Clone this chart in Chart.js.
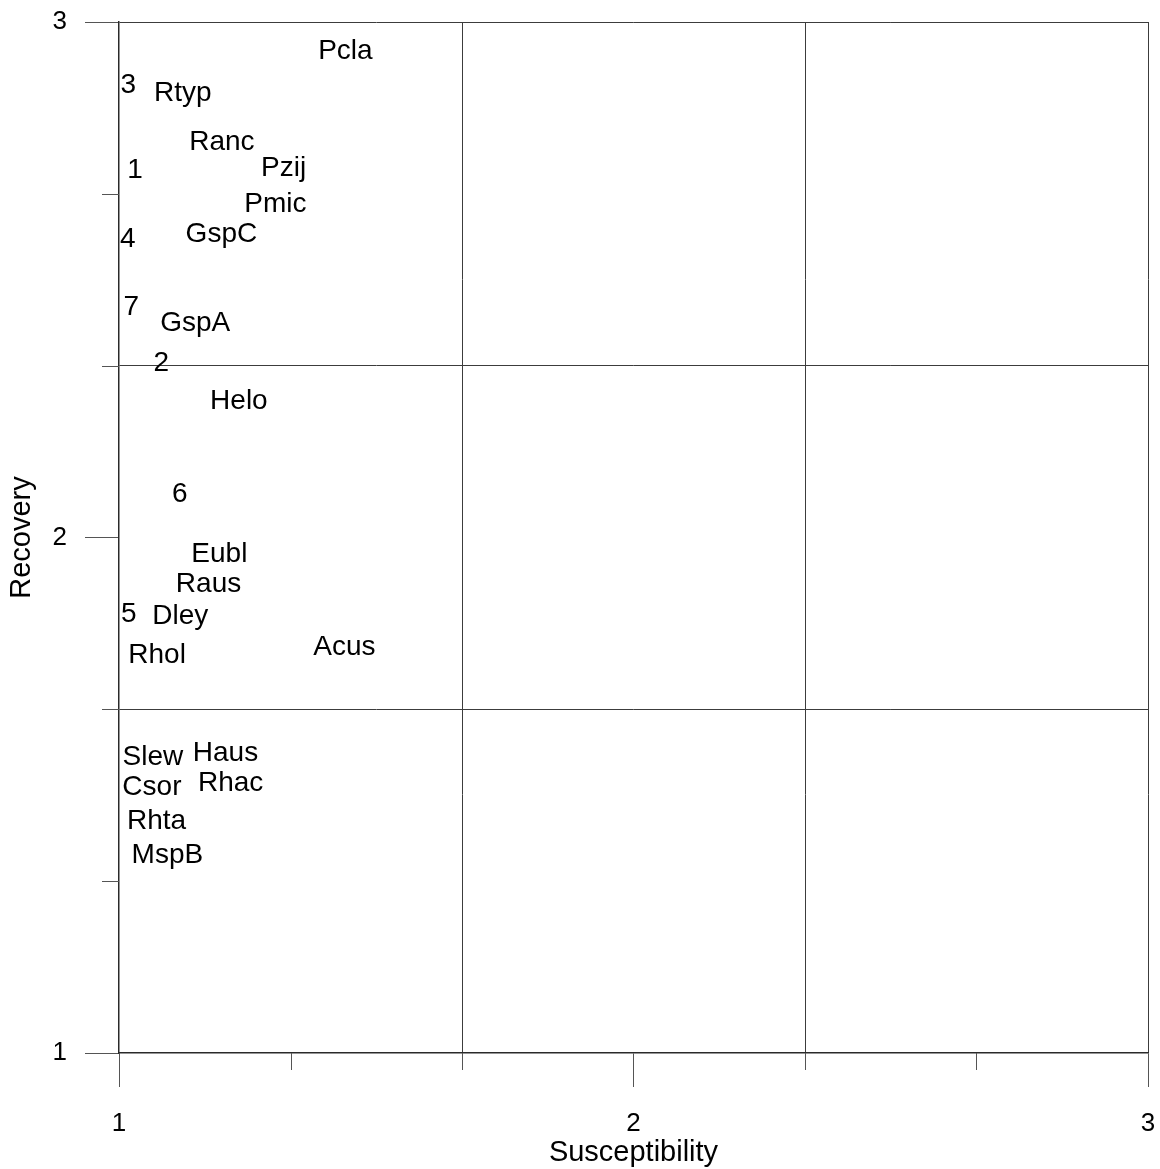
<!DOCTYPE html>
<html>
<head>
<meta charset="utf-8">
<title>Susceptibility vs Recovery</title>
<script src="https://cdn.jsdelivr.net/npm/chart.js@4/dist/chart.umd.min.js"></script>
<style>
  html, body { margin: 0; padding: 0; background: #ffffff; }
  #wrap { width: 1160px; height: 1169px; }
</style>
</head>
<body>
<div id="wrap"><canvas id="chart" width="1160" height="1169"></canvas></div>
<script>
// Taxon / group codes placed by their susceptibility and recovery scores
const codes = ['Pcla', '3', 'Rtyp', 'Ranc', '1', 'Pzij', 'Pmic', '4', 'GspC', '7', 'GspA', '2', 'Helo',
  '6', 'Eubl', 'Raus', '5', 'Dley', 'Rhol', 'Acus', 'Slew', 'Haus', 'Csor', 'Rhac', 'Rhta', 'MspB'];
const susceptibility = [1.440, 1.018, 1.124, 1.200, 1.031, 1.320, 1.304, 1.017, 1.199, 1.024, 1.148, 1.082, 1.233,
  1.118, 1.195, 1.174, 1.019, 1.119, 1.074, 1.438, 1.066, 1.207, 1.064, 1.217, 1.073, 1.094];
const recovery = [2.944, 2.877, 2.862, 2.767, 2.712, 2.717, 2.647, 2.578, 2.589, 2.447, 2.415, 2.338, 2.265,
  2.083, 1.967, 1.910, 1.851, 1.848, 1.772, 1.787, 1.573, 1.582, 1.515, 1.523, 1.449, 1.383];

// Axis ticks every third of a unit; only whole numbers get a label
const axisTicks = [1, 4 / 3, 5 / 3, 2, 7 / 3, 8 / 3, 3];
const gridValues = [5 / 3, 7 / 3, 3];

const FONT = "'Liberation Sans', Arial, Helvetica, sans-serif";
const near = (a, b) => Math.abs(a - b) < 1e-6;
const isWhole = v => near(v, Math.round(v));
const isGrid = v => gridValues.some(g => near(g, v));

const points = codes.map((c, i) => ({ x: susceptibility[i], y: recovery[i] }));

// Writes each code at its point position
const codeLabels = {
  id: 'codeLabels',
  afterDatasetsDraw(chart) {
    const ctx = chart.ctx;
    const meta = chart.getDatasetMeta(0);
    ctx.save();
    ctx.fillStyle = '#000000';
    ctx.font = '28px ' + FONT;
    ctx.textAlign = 'center';
    ctx.textBaseline = 'middle';
    meta.data.forEach((el, i) => {
      ctx.fillText(codes[i], el.x, el.y);
    });
    ctx.restore();
  }
};

// Short outside ticks at the unlabelled thirds
const minorTicks = {
  id: 'minorTicks',
  afterDraw(chart) {
    const ctx = chart.ctx;
    const xs = chart.scales.x, ys = chart.scales.y;
    const len = 17;
    ctx.save();
    ctx.strokeStyle = '#555555';
    ctx.lineWidth = 1;
    axisTicks.filter(v => !isWhole(v)).forEach(v => {
      const px = Math.round(xs.getPixelForValue(v)) + 0.5;
      ctx.beginPath();
      ctx.moveTo(px, xs.top);
      ctx.lineTo(px, xs.top + len);
      ctx.stroke();
      const py = Math.round(ys.getPixelForValue(v)) + 0.5;
      ctx.beginPath();
      ctx.moveTo(ys.right - len, py);
      ctx.lineTo(ys.right, py);
      ctx.stroke();
    });
    ctx.restore();
  }
};

const axisCommon = (title) => ({
  type: 'linear',
  min: 1,
  max: 3,
  afterBuildTicks(scale) {
    scale.ticks = axisTicks.map(v => ({ value: v }));
  },
  ticks: {
    autoSkip: false,
    maxRotation: 0,
    color: '#000000',
    font: { family: FONT, size: 26 },
    callback: v => (isWhole(v) ? String(Math.round(v)) : '')
  },
  grid: {
    drawOnChartArea: true,
    drawTicks: true,
    tickLength: 34,
    lineWidth: 1,
    color: c => (c.tick && isGrid(c.tick.value) ? '#3c3c3c' : 'rgba(0,0,0,0)'),
    tickColor: c => (c.tick && isWhole(c.tick.value) ? '#555555' : 'rgba(0,0,0,0)'),
    tickWidth: 1
  },
  border: { display: true, color: '#2a2a2a', width: 1.5 },
  title: {
    display: true,
    text: title,
    color: '#000000',
    font: { family: FONT, size: 29, lineHeight: 1.1 }
  }
});

const xAxis = axisCommon('Susceptibility');
xAxis.position = 'bottom';
xAxis.ticks.padding = 21;
xAxis.title.padding = { top: 0, bottom: 0 };
xAxis.afterFit = s => {
  s.height = 116;
  s.paddingLeft = 0;
  s.paddingRight = 0;
};

const yAxis = axisCommon('Recovery');
yAxis.position = 'left';
yAxis.ticks.padding = 18;
yAxis.title.padding = { top: 6, bottom: 0 };
yAxis.afterFit = s => {
  s.width = 119;
  s.paddingTop = 0;
  s.paddingBottom = 0;
};

new Chart(document.getElementById('chart'), {
  type: 'scatter',
  data: {
    datasets: [{
      data: points,
      pointRadius: 0,
      pointHoverRadius: 0,
      showLine: false
    }]
  },
  options: {
    responsive: false,
    devicePixelRatio: 1,
    animation: false,
    layout: { padding: { top: 22, right: 12, left: 0, bottom: 0 } },
    plugins: {
      legend: { display: false },
      tooltip: { enabled: false }
    },
    scales: { x: xAxis, y: yAxis }
  },
  plugins: [codeLabels, minorTicks]
});
</script>
</body>
</html>
